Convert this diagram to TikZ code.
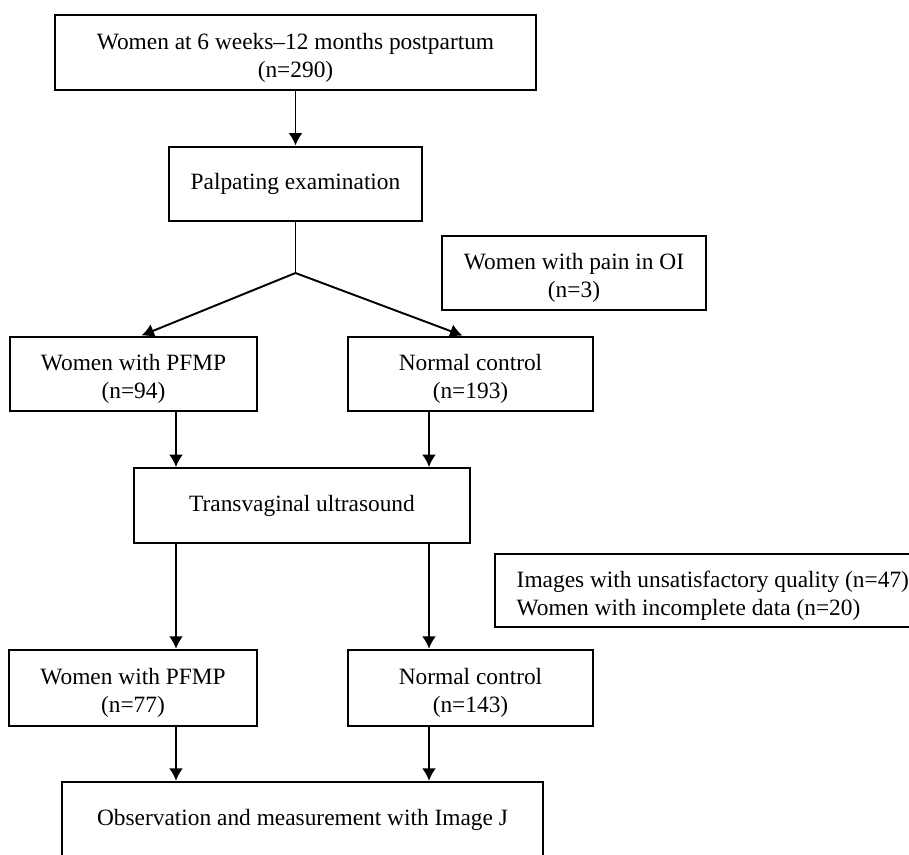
\documentclass[tikz,border=0pt]{standalone}
\usepackage{fontspec}
\setmainfont{Liberation Serif}
\usepackage{tikz}
\usetikzlibrary{shapes,arrows.meta,positioning}
\newcommand{\lowerstrut}{\rule{0pt}{0.53cm}}
\tikzstyle{flowbox}=[rectangle, draw, align=center, line width=1.4pt, inner sep=0pt, minimum height=1.49cm, font=\fontsize{13.3}{15.9}\selectfont]
\tikzstyle{sidebox}=[rectangle, draw, align=left, line width=1.4pt, inner xsep=0.44cm, inner ysep=0pt, minimum height=1.46cm, font=\fontsize{13.3}{15.9}\selectfont]
\tikzstyle{flowarrow}=[-{Latex[length=0.25cm,width=0.28cm]}, line width=1.1pt]

\begin{document}
\begin{tikzpicture}

\useasboundingbox (0,0) rectangle (18.18,-17.08);

\node[flowbox, minimum width=9.62cm](p1) at (5.91,-1.05) {\lowerstrut Women at 6 weeks--12 months postpartum\\(n=290)};
\node[flowbox, minimum width=5.06cm](p2) at (5.91,-3.68) {Palpating examination};
\node[flowbox, minimum width=5.28cm](ex1) at (11.48,-5.46) {\lowerstrut Women with pain in OI\\(n=3)};
\node[flowbox, minimum width=4.94cm](g1) at (2.67,-7.48) {\lowerstrut Women with PFMP\\(n=94)};
\node[flowbox, minimum width=4.90cm](c1) at (9.41,-7.48) {\lowerstrut Normal control\\(n=193)};
\node[flowbox, minimum width=6.72cm](p3) at (6.04,-10.11) {Transvaginal ultrasound};
\node[sidebox, anchor=west](ex2) at (9.87,-11.81) {\lowerstrut Images with unsatisfactory quality (n=47)\\Women with incomplete data (n=20)};
\node[flowbox, minimum width=4.96cm, minimum height=1.52cm](g2) at (2.66,-13.76) {\lowerstrut Women with PFMP\\(n=77)};
\node[flowbox, minimum width=4.90cm, minimum height=1.52cm](c2) at (9.41,-13.76) {\lowerstrut Normal control\\(n=143)};
\node[flowbox, minimum width=9.62cm, minimum height=1.52cm](p4) at (6.05,-16.40) {Observation and measurement with Image J};

\coordinate (split) at (5.91,-5.46);
\coordinate (lcol) at (3.52,0);
\coordinate (rcol) at (8.58,0);

\draw[flowarrow](p1.south) -- (p2.north);
\draw[line width=1.1pt](p2.south) -- (split);
\draw[flowarrow](split) -- ([xshift=0.16cm]g1.north);
\draw[flowarrow](split) -- ([xshift=-0.16cm]c1.north);
\draw[flowarrow](g1.south -| lcol) -- (p3.north -| lcol);
\draw[flowarrow](c1.south -| rcol) -- (p3.north -| rcol);
\draw[flowarrow](p3.south -| lcol) -- (g2.north -| lcol);
\draw[flowarrow](p3.south -| rcol) -- (c2.north -| rcol);
\draw[flowarrow](g2.south -| lcol) -- (p4.north -| lcol);
\draw[flowarrow](c2.south -| rcol) -- (p4.north -| rcol);

\end{tikzpicture}
\end{document}
